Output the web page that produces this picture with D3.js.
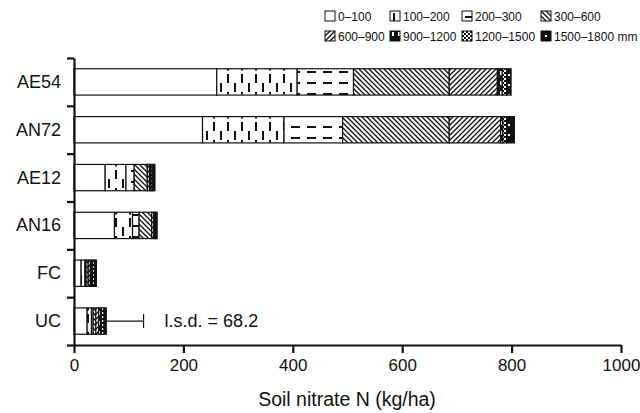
<!DOCTYPE html>
<html>
<head>
<meta charset="utf-8">
<script src="https://cdn.jsdelivr.net/npm/d3@7"></script>
<style>
  body { margin: 0; background: #fff; }
  svg { font-family: "Liberation Sans", Arial, Helvetica, sans-serif; }
</style>
</head>
<body>
<div id="chart"></div>
<script>
// treatments, top to bottom
const categories = ['AE54', 'AN72', 'AE12', 'AN16', 'FC', 'UC'];
// soil depth layers (mm)
const depths = ['0–100', '100–200', '200–300', '300–600', '600–900', '900–1200', '1200–1500', '1500–1800'];

// nitrate N (kg/ha) in each layer, same order as categories
const d0_100 = [261, 235, 57, 74, 13, 24];
const d100_200 = [147, 149, 38, 33, 7, 8];
const d200_300 = [103, 107, 15, 12, 2, 3];
const d300_600 = [175, 195, 24, 23, 4, 5];
const d600_900 = [88, 94, 4, 4, 4, 5];
const d900_1200 = [9, 4, 3, 2, 4, 5];
const d1200_1500 = [8, 7, 3, 2, 4, 5];
const d1500_1800 = [8, 14, 4, 2, 3, 4];

const xTicks = [0, 200, 400, 600, 800, 1000];
const lsd = 68.2;

const layers = [d0_100, d100_200, d200_300, d300_600, d600_900, d900_1200, d1200_1500, d1500_1800];

const width = 640;
const height = 413;

const svg = d3.select('#chart')
  .append('svg')
  .attr('width', width)
  .attr('height', height);

// fill patterns for each depth layer
const defs = svg.append('defs');

function pattern(id, w, h) {
  return defs.append('pattern')
    .attr('id', id)
    .attr('patternUnits', 'userSpaceOnUse')
    .attr('width', w)
    .attr('height', h);
}

let p;
// 100-200: staggered vertical dashes
p = pattern('p1', 14, 24);
p.append('rect').attr('width', 14).attr('height', 24).attr('fill', '#fff');
p.append('rect').attr('x', 3).attr('y', 2).attr('width', 2).attr('height', 9).attr('fill', '#111');
p.append('rect').attr('x', 10).attr('y', 11).attr('width', 2).attr('height', 9).attr('fill', '#111');
p.append('rect').attr('x', 3).attr('y', 20).attr('width', 2).attr('height', 2.5).attr('fill', '#111');

// 200-300: horizontal dashes
p = pattern('p2', 16, 11);
p.append('rect').attr('width', 16).attr('height', 11).attr('fill', '#fff');
p.append('rect').attr('x', 3).attr('y', 5).attr('width', 9).attr('height', 2).attr('fill', '#111');

// 300-600: back diagonals
p = pattern('p3', 5, 5);
p.append('rect').attr('width', 5).attr('height', 5).attr('fill', '#fff');
p.append('path').attr('d', 'M-1,-1L6,6M-1,4L1,6M4,-1L6,1').attr('stroke', '#111').attr('stroke-width', 1.3);

// 600-900: forward diagonals
p = pattern('p4', 5, 5);
p.append('rect').attr('width', 5).attr('height', 5).attr('fill', '#fff');
p.append('path').attr('d', 'M-1,6L6,-1M-1,1L1,-1M4,6L6,4').attr('stroke', '#111').attr('stroke-width', 1.3);

// 900-1200: mostly black with white dashes
p = pattern('p5', 6, 10);
p.append('rect').attr('width', 6).attr('height', 10).attr('fill', '#111');
p.append('rect').attr('x', 2).attr('y', 1).attr('width', 2).attr('height', 4).attr('fill', '#fff');

// 1200-1500: checker
p = pattern('p6', 4, 4);
p.append('rect').attr('width', 4).attr('height', 4).attr('fill', '#fff');
p.append('rect').attr('width', 2).attr('height', 2).attr('fill', '#111');
p.append('rect').attr('x', 2).attr('y', 2).attr('width', 2).attr('height', 2).attr('fill', '#111');

// 1500-1800: black with white dot
p = pattern('p7', 8, 10);
p.append('rect').attr('width', 8).attr('height', 10).attr('fill', '#111');
p.append('rect').attr('x', 4).attr('y', 4).attr('width', 2).attr('height', 2).attr('fill', '#fff');

const fills = ['#fff', 'url(#p1)', 'url(#p2)', 'url(#p3)', 'url(#p4)', 'url(#p5)', 'url(#p6)', 'url(#p7)'];

// scales
const x = d3.scaleLinear()
  .domain([0, 1000])
  .range([74, 621]);

const yTop = 58, yBottom = 345;
const y = d3.scaleBand()
  .domain(categories)
  .range([yTop, yBottom])
  .paddingInner(0.45)
  .paddingOuter(0.225);

// stacked data
const rows = categories.map(function(c, i) {
  const r = { cat: c };
  depths.forEach(function(d, j) { r[d] = layers[j][i]; });
  return r;
});
const stack = d3.stack().keys(depths)(rows);

const g = svg.append('g');

stack.forEach(function(layer, j) {
  g.append('g')
    .selectAll('rect')
    .data(layer)
    .enter().append('rect')
    .attr('x', function(d) { return x(d[0]); })
    .attr('y', function(d) { return y(d.data.cat); })
    .attr('width', function(d) { return x(d[1]) - x(d[0]); })
    .attr('height', y.bandwidth())
    .attr('fill', fills[j])
    .attr('stroke', '#111')
    .attr('stroke-width', 1.2);
});

// l.s.d. bar on UC
const ucTotal = d3.sum(layers, function(l) { return l[5]; });
const ucY = y('UC') + y.bandwidth() / 2;
g.append('line')
  .attr('x1', x(ucTotal)).attr('x2', x(ucTotal + lsd))
  .attr('y1', ucY).attr('y2', ucY)
  .attr('stroke', '#111').attr('stroke-width', 1.2);
g.append('line')
  .attr('x1', x(ucTotal + lsd)).attr('x2', x(ucTotal + lsd))
  .attr('y1', ucY - 7).attr('y2', ucY + 7)
  .attr('stroke', '#111').attr('stroke-width', 1.2);
g.append('text')
  .attr('x', x(ucTotal + lsd) + 21)
  .attr('y', ucY + 6)
  .attr('font-size', 18)
  .attr('fill', '#111')
  .text('l.s.d. = ' + lsd);

// x axis
const xAxis = svg.append('g')
  .attr('transform', 'translate(0,' + yBottom + ')')
  .call(d3.axisBottom(x).tickValues(xTicks).tickFormat(d3.format('d'))
    .tickSize(8).tickSizeOuter(0).tickPadding(6));
xAxis.select('.domain').attr('stroke-width', 2.2).attr('stroke', '#111');
xAxis.selectAll('.tick line').attr('stroke-width', 2.2).attr('stroke', '#111');
xAxis.selectAll('.tick text').attr('font-size', 17).attr('fill', '#111')
  .attr('font-family', '"Liberation Sans", Arial, sans-serif');

// y axis: ticks at band boundaries
const yEdge = d3.scaleLinear().domain([0, categories.length]).range([yTop, yBottom]);
const yAxis = svg.append('g')
  .attr('transform', 'translate(' + x(0) + ',0)')
  .call(d3.axisLeft(yEdge).tickValues(d3.range(0, categories.length + 1)).tickSize(7).tickSizeOuter(0).tickFormat(''));
yAxis.select('.domain').attr('stroke-width', 2.2).attr('stroke', '#111');
yAxis.selectAll('.tick line').attr('stroke-width', 2.2).attr('stroke', '#111');

// category labels at band centres
svg.append('g')
  .selectAll('text')
  .data(categories)
  .enter().append('text')
  .attr('x', 61)
  .attr('y', function(d) { return y(d) + y.bandwidth() / 2 + 6; })
  .attr('text-anchor', 'end')
  .attr('font-size', 18)
  .attr('fill', '#111')
  .text(function(d) { return d; });

// axis title
svg.append('text')
  .attr('x', 347)
  .attr('y', 406)
  .attr('text-anchor', 'middle')
  .attr('font-size', 19.5)
  .attr('fill', '#111')
  .text('Soil nitrate N (kg/ha)');

// legend, two rows of four
const legCols = [325, 390, 462, 541];
const legend = svg.append('g')
  .selectAll('g')
  .data(depths)
  .enter().append('g')
  .attr('transform', function(d, i) {
    return 'translate(' + legCols[i % 4] + ',' + (i < 4 ? 11 : 31) + ')';
  });
legend.append('rect')
  .attr('width', 10).attr('height', 10)
  .attr('fill', function(d, i) { return fills[i]; })
  .attr('stroke', '#111').attr('stroke-width', 1);
legend.append('text')
  .attr('x', 13)
  .attr('y', 9.5)
  .attr('font-size', 12)
  .attr('fill', '#111')
  .text(function(d, i) { return i === depths.length - 1 ? d + ' mm' : d; });
</script>
</body>
</html>
